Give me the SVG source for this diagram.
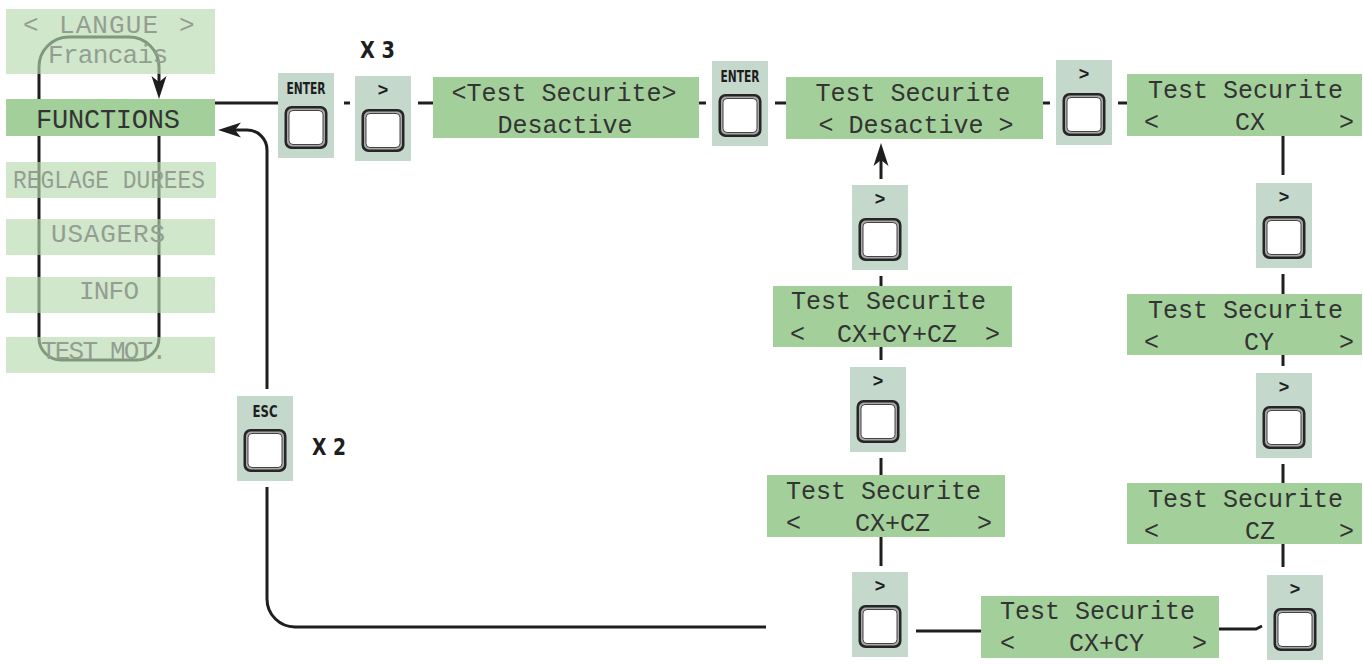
<svg xmlns="http://www.w3.org/2000/svg" xmlns:xlink="http://www.w3.org/1999/xlink" width="1363" height="664" viewBox="0 0 1363 664">
<style>
.lcd{fill:#a3cf9a}
.fade{fill:#b9dab1;fill-opacity:0.65}
.t{font-family:"Liberation Mono","DejaVu Sans Mono",monospace;font-size:25px;fill:#333333}
.tf{font-family:"Liberation Mono","DejaVu Sans Mono",monospace;font-size:26px;fill:#939e91}
.mid{text-anchor:middle}
.conn{fill:none;stroke:#1e1e1e;stroke-width:3}
.kl{font-family:"DejaVu Sans Condensed","DejaVu Sans",sans-serif;font-weight:bold;font-size:16px;fill:#1e1e1e;text-anchor:middle}
.kg{font-family:"Liberation Sans",Arial,sans-serif;font-weight:bold;font-size:18px;fill:#1e1e1e;text-anchor:middle}
.xn{font-family:"DejaVu Sans Condensed","DejaVu Sans",sans-serif;font-weight:bold;font-size:23px;fill:#1e1e1e}
</style>
<defs>
<marker id="arr" viewBox="-14 -9 26 18" markerUnits="userSpaceOnUse" markerWidth="26" markerHeight="18" refX="0" refY="0" orient="auto" overflow="visible">
<path d="M10,0 L-13,-7.5 L-7,0 L-13,7.5 Z" fill="#1e1e1e"/>
</marker>
<g id="key">
<rect width="56" height="85" fill="#c5d8cc"/>
<rect x="6.5" y="33" width="43" height="43" rx="7" fill="#262626"/>
<rect x="9" y="35.5" width="38" height="38" rx="5" fill="#a9a9a9"/>
<rect x="11" y="37.5" width="34" height="34" rx="4" fill="#ffffff" stroke="#444" stroke-width="1"/>
</g>
</defs>
<rect width="1363" height="664" fill="#ffffff"/>

<g id="connectors">
<path class="conn" d="M159,120 V338 A22,22 0 0 1 137,360 H61 A22,22 0 0 1 39,338 V67 A30,30 0 0 1 69,37 H129 A30,30 0 0 1 159,67 V89" marker-end="url(#arr)"/>
<path class="conn" d="M215,103 H278"/>
<path class="conn" d="M344,103 H350"/>
<path class="conn" d="M418,103 H433"/>
<path class="conn" d="M699,103 H706"/>
<path class="conn" d="M775,103 H786"/>
<path class="conn" d="M1043,103 H1050"/>
<path class="conn" d="M1118,103 H1127"/>
<path class="conn" d="M1283,136 V175"/>
<path class="conn" d="M1283,274 V294"/>
<path class="conn" d="M1283,355 V366"/>
<path class="conn" d="M1283,464 V483"/>
<path class="conn" d="M1283,544 V567"/>
<path class="conn" d="M1219,629 H1256 L1262,626"/>
<path class="conn" d="M981,631 H916"/>
<path class="conn" d="M881,566 V537"/>
<path class="conn" d="M881,475 V458"/>
<path class="conn" d="M881,360 V347"/>
<path class="conn" d="M881,286 V276"/>
<path class="conn" d="M881,179 V153" marker-end="url(#arr)"/>
<path class="conn" d="M766,627 H295 A28,28 0 0 1 267,599 V487"/>
<path class="conn" d="M267,389 V150 A20,20 0 0 0 247,130 H228" marker-end="url(#arr)"/>
</g>

<g id="menu-langue">
<rect class="fade" x="6" y="9" width="209" height="65"/>
<text class="tf" y="33" xml:space="preserve"><tspan x="23">&lt;</tspan><tspan x="59" textLength="99">LANGUE</tspan><tspan x="179">&gt;</tspan></text>
<text class="tf" x="48" y="63" textLength="120">Francais</text>
</g>
<g id="menu-functions">
<rect class="lcd" x="6" y="99" width="209" height="37"/>
<text class="t" x="36" y="128" style="font-size:27px" textLength="144">FUNCTIONS</text>
</g>
<g id="menu-reglage">
<rect class="fade" x="6" y="162" width="210" height="36"/>
<text class="tf" x="13" y="188" textLength="192" lengthAdjust="spacingAndGlyphs">REGLAGE DUREES</text>
</g>
<g id="menu-usagers">
<rect class="fade" x="6" y="219" width="209" height="36"/>
<text class="tf" x="51" y="242" textLength="114">USAGERS</text>
</g>
<g id="menu-info">
<rect class="fade" x="6" y="277" width="209" height="36"/>
<text class="tf" x="79" y="299" textLength="60">INFO</text>
</g>
<g id="menu-testmot">
<rect class="fade" x="6" y="337" width="209" height="36"/>
<text class="tf" x="41" y="359" textLength="126">TEST MOT.</text>
</g>

<g id="key-enter1">
<use xlink:href="#key" x="278" y="73"/>
<text class="kl" x="306" y="94" textLength="39" lengthAdjust="spacingAndGlyphs">ENTER</text>
</g>
<g id="key-next1">
<use xlink:href="#key" x="355" y="76"/>
<text class="kg" x="383" y="96">&gt;</text>
</g>
<text id="label-x3" class="xn" x="360" y="58" textLength="35" lengthAdjust="spacingAndGlyphs">X 3</text>

<g id="lcd-test">
<rect class="lcd" x="433" y="77" width="266" height="61"/>
<text class="t mid" x="564" y="101">&lt;Test Securite&gt;</text>
<text class="t mid" x="565" y="133">Desactive</text>
</g>
<g id="key-enter2">
<use xlink:href="#key" x="712" y="61"/>
<text class="kl" x="740" y="82" textLength="39" lengthAdjust="spacingAndGlyphs">ENTER</text>
</g>
<g id="lcd-desactive">
<rect class="lcd" x="786" y="77" width="257" height="62"/>
<text class="t mid" x="913" y="101">Test Securite</text>
<text class="t mid" x="916" y="133">&lt; Desactive &gt;</text>
</g>
<g id="key-next2">
<use xlink:href="#key" x="1056" y="60"/>
<text class="kg" x="1084" y="80">&gt;</text>
</g>
<g id="lcd-cx">
<rect class="lcd" x="1127" y="74" width="235" height="62"/>
<text class="t" x="1148" y="98">Test Securite</text>
<text class="t" y="130" xml:space="preserve"><tspan x="1144">&lt;</tspan><tspan x="1235">CX</tspan><tspan x="1339">&gt;</tspan></text>
</g>
<g id="key-next3">
<use xlink:href="#key" x="1256" y="183"/>
<text class="kg" x="1284" y="203">&gt;</text>
</g>
<g id="lcd-cy">
<rect class="lcd" x="1127" y="294" width="235" height="61"/>
<text class="t" x="1148" y="318">Test Securite</text>
<text class="t" y="350" xml:space="preserve"><tspan x="1144">&lt;</tspan><tspan x="1244">CY</tspan><tspan x="1339">&gt;</tspan></text>
</g>
<g id="key-next4">
<use xlink:href="#key" x="1256" y="373"/>
<text class="kg" x="1284" y="393">&gt;</text>
</g>
<g id="lcd-cz">
<rect class="lcd" x="1127" y="483" width="235" height="61"/>
<text class="t" x="1148" y="507">Test Securite</text>
<text class="t" y="539" xml:space="preserve"><tspan x="1144">&lt;</tspan><tspan x="1245">CZ</tspan><tspan x="1339">&gt;</tspan></text>
</g>
<g id="key-next5">
<use xlink:href="#key" x="1267" y="575"/>
<text class="kg" x="1295" y="595">&gt;</text>
</g>
<g id="lcd-cxcy">
<rect class="lcd" x="981" y="596" width="238" height="62"/>
<text class="t" x="1000" y="619">Test Securite</text>
<text class="t" y="651" xml:space="preserve"><tspan x="1000">&lt;</tspan><tspan x="1069">CX+CY</tspan><tspan x="1192">&gt;</tspan></text>
</g>
<g id="key-next6">
<use xlink:href="#key" x="852" y="572"/>
<text class="kg" x="880" y="592">&gt;</text>
</g>
<g id="lcd-cxcz">
<rect class="lcd" x="767" y="475" width="238" height="62"/>
<text class="t" x="786" y="499">Test Securite</text>
<text class="t" y="531" xml:space="preserve"><tspan x="786">&lt;</tspan><tspan x="855">CX+CZ</tspan><tspan x="977">&gt;</tspan></text>
</g>
<g id="key-next7">
<use xlink:href="#key" x="850" y="367"/>
<text class="kg" x="878" y="387">&gt;</text>
</g>
<g id="lcd-cxcycz">
<rect class="lcd" x="773" y="286" width="239" height="61"/>
<text class="t" x="791" y="309">Test Securite</text>
<text class="t" y="342" xml:space="preserve"><tspan x="790">&lt;</tspan><tspan x="837">CX+CY+CZ</tspan><tspan x="985">&gt;</tspan></text>
</g>
<g id="key-next8">
<use xlink:href="#key" x="852" y="185"/>
<text class="kg" x="880" y="205">&gt;</text>
</g>
<g id="key-esc">
<use xlink:href="#key" x="237" y="396"/>
<text class="kl" x="265" y="417" textLength="25" lengthAdjust="spacingAndGlyphs">ESC</text>
</g>
<text id="label-x2" class="xn" x="312" y="455" textLength="34" lengthAdjust="spacingAndGlyphs">X 2</text>
</svg>
